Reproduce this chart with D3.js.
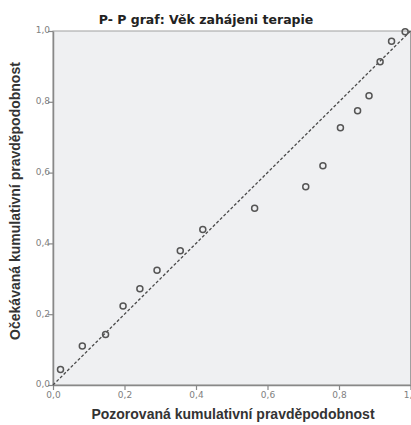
<!DOCTYPE html>
<html>
<head>
<meta charset="utf-8">
<script src="https://cdn.jsdelivr.net/npm/d3@7"></script>
<style>
  body { margin: 0; background: #fff; }
  svg { display: block; }
</style>
</head>
<body>
<div id="chart"></div>
<script>
// observed vs expected cumulative probabilities
var observed = [0.021, 0.082, 0.147, 0.196, 0.243, 0.291, 0.356, 0.419, 0.564, 0.707, 0.755, 0.804, 0.852, 0.884, 0.915, 0.947, 0.985];
var expected = [0.044, 0.110, 0.143, 0.223, 0.272, 0.324, 0.379, 0.439, 0.499, 0.560, 0.619, 0.727, 0.775, 0.817, 0.913, 0.971, 0.998];
var tickValues = [0, 0.2, 0.4, 0.6, 0.8, 1.0];
var tickLabels = ['0,0', '0,2', '0,4', '0,6', '0,8', '1,0'];

var WIDTH = 411, HEIGHT = 425;
var margin = {top: 31, right: 1, bottom: 40, left: 53};
var innerW = 357.5, innerH = 354;

var svg = d3.select('#chart').append('svg')
    .attr('width', WIDTH)
    .attr('height', HEIGHT);

var x = d3.scaleLinear().domain([0, 1]).range([margin.left, margin.left + innerW]);
var y = d3.scaleLinear().domain([0, 1]).range([margin.top + innerH, margin.top]);

// plot background
svg.append('rect')
    .attr('x', x(0)).attr('y', y(1))
    .attr('width', x(1) - x(0)).attr('height', y(0) - y(1))
    .attr('fill', '#eff0f2')
    .attr('stroke', '#a0a0a0')
    .attr('stroke-width', 1);

// axes
var fmt = function (d) { return tickLabels[tickValues.indexOf(d)]; };
var xAxis = svg.append('g')
    .attr('transform', 'translate(0,' + y(0) + ')')
    .call(d3.axisBottom(x).tickValues(tickValues).tickFormat(fmt).tickSize(5).tickSizeOuter(0));
var yAxis = svg.append('g')
    .attr('transform', 'translate(' + x(0) + ',0)')
    .call(d3.axisLeft(y).tickValues(tickValues).tickFormat(fmt).tickSize(5).tickSizeOuter(0));

[xAxis, yAxis].forEach(function (a) {
    a.select('.domain').attr('stroke', '#888').attr('stroke-width', 1.5);
    a.selectAll('.tick line').attr('stroke', '#888').attr('stroke-width', 1.2);
    a.selectAll('.tick text')
        .attr('fill', '#808080')
        .style('font-family', '"DejaVu Sans", sans-serif')
        .style('font-size', '9px');
});
xAxis.selectAll('.tick text').attr('y', 7);
yAxis.selectAll('.tick text').attr('x', -3).attr('dy', '0.2em');

// reference line
svg.append('line')
    .attr('x1', x(0)).attr('y1', y(0))
    .attr('x2', x(1)).attr('y2', y(1))
    .attr('stroke', '#4a4a4a')
    .attr('stroke-width', 1.3)
    .attr('stroke-dasharray', '3,2');

// points
svg.append('g').selectAll('circle')
    .data(observed)
    .enter().append('circle')
    .attr('cx', function (d) { return x(d); })
    .attr('cy', function (d, i) { return y(expected[i]); })
    .attr('r', 3)
    .attr('fill', 'none')
    .attr('stroke', '#555')
    .attr('stroke-width', 1.5);

// title
svg.append('text')
    .attr('x', 206).attr('y', 24)
    .attr('text-anchor', 'middle')
    .style('font-family', '"DejaVu Sans", sans-serif')
    .style('font-weight', 'bold')
    .style('font-size', '12.5px')
    .attr('fill', '#222')
    .text('P- P graf: Věk zahájeni terapie');

// axis titles
svg.append('text')
    .attr('x', 233).attr('y', 419)
    .attr('text-anchor', 'middle')
    .style('font-family', '"Liberation Sans", Arial, sans-serif')
    .style('font-size', '14px')
    .style('font-weight', 'bold')
    .attr('fill', '#333')
    .text('Pozorovaná kumulativní pravděpodobnost');

svg.append('text')
    .attr('transform', 'translate(20,201) rotate(-90)')
    .attr('text-anchor', 'middle')
    .style('font-family', '"Liberation Sans", Arial, sans-serif')
    .style('font-size', '14px')
    .style('font-weight', 'bold')
    .attr('fill', '#333')
    .text('Očekávaná kumulativní pravděpodobnost');
</script>
</body>
</html>
